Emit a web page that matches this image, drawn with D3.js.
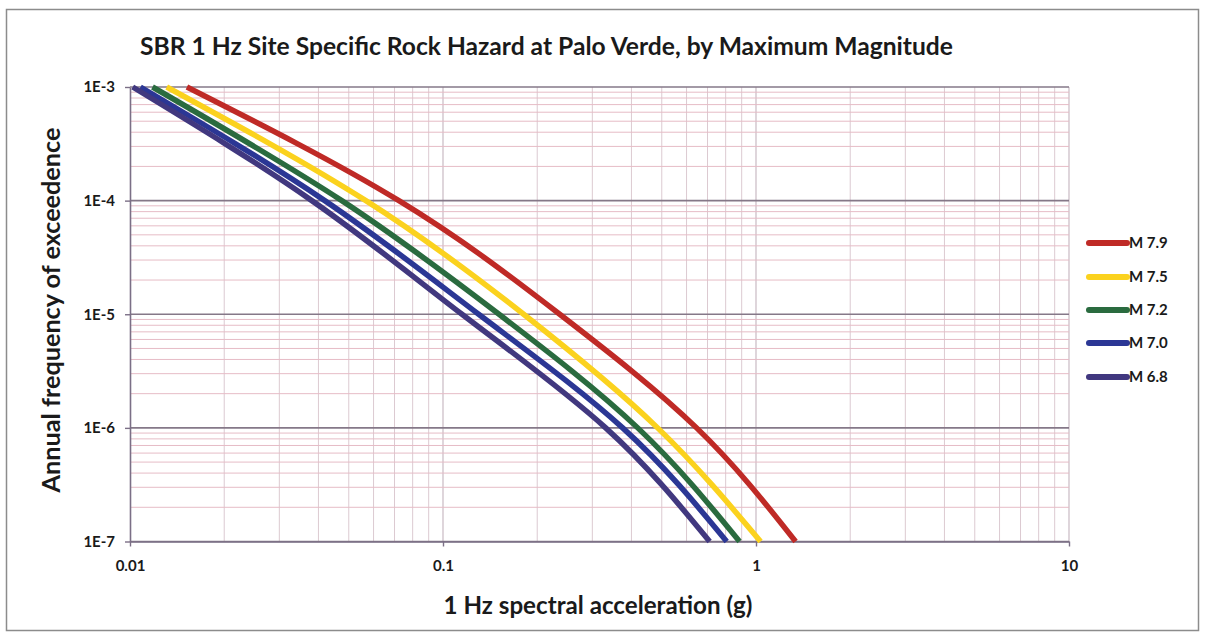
<!DOCTYPE html>
<html lang="en">
<meta charset="utf-8">
<head>
<script src="https://d3js.org/d3.v7.min.js"></script>
<style>
  body { margin: 0; background: #fff; }
  text { font-family: Lato, "Open Sans", sans-serif; font-weight: bold; fill: #1a1a1a; }
</style>
</head>
<body>
<div id="chart"></div>
<script>

var freqLevels = [1e-3, 1e-4, 1e-5, 1e-6, 1e-7];

// spectral acceleration (g) at those levels, one array per max magnitude
var accM79 = [0.0152, 0.0723, 0.236, 0.646, 1.338];
var accM75 = [0.0131, 0.0567, 0.181, 0.485, 1.034];
var accM72 = [0.0118, 0.0475, 0.151, 0.419, 0.886];
var accM70 = [0.0108, 0.0419, 0.130, 0.375, 0.806];
var accM68 = [0.0102, 0.0381, 0.115, 0.331, 0.711];

var seriesNames = ["M 7.9", "M 7.5", "M 7.2", "M 7.0", "M 6.8"];
var seriesColors = ["#bf2a26", "#fbd21e", "#2a6b3f", "#2b3795", "#41387f"];
var seriesAcc = [accM79, accM75, accM72, accM70, accM68];

var xTicks = [0.01, 0.1, 1, 10];
var xTickLabels = ["0.01", "0.1", "1", "10"];
var yTicks = [1e-3, 1e-4, 1e-5, 1e-6, 1e-7];
var yTickLabels = ["1E-3", "1E-4", "1E-5", "1E-6", "1E-7"];

var W = 1205, H = 637;
var plot = {left: 130, right: 1069, top: 87, bottom: 541.5};

var svg = d3.select("#chart").append("svg")
  .attr("width", W).attr("height", H);

// outer chart frame
svg.append("rect")
  .attr("x", 6.5).attr("y", 9.5).attr("width", 1192).attr("height", 621)
  .attr("fill", "#fff").attr("stroke", "#8c8c8c").attr("stroke-width", 1.5);

var x = d3.scaleLog().domain([0.01, 10]).range([plot.left, plot.right]);
var y = d3.scaleLog().domain([1e-7, 1e-3]).range([plot.bottom, plot.top]);

// minor values 2..9 per decade
function minors(lo, hi) {
  var out = [];
  for (var d = lo; d < hi * 0.999; d *= 10) {
    for (var k = 2; k <= 9; k++) out.push(d * k);
  }
  return out;
}

var grid = svg.append("g");
// vertical grid
grid.selectAll(".vmin").data(minors(0.01, 10)).enter().append("line")
  .attr("x1", d => x(d)).attr("x2", d => x(d))
  .attr("y1", plot.top).attr("y2", plot.bottom)
  .attr("stroke", "#dccad1").attr("stroke-width", 1);
grid.selectAll(".vmaj").data(xTicks.slice(1)).enter().append("line")
  .attr("x1", d => x(d)).attr("x2", d => x(d))
  .attr("y1", plot.top).attr("y2", plot.bottom)
  .attr("stroke", "#c9bac3").attr("stroke-width", 1.2);

// horizontal grid
grid.selectAll(".hmin").data(minors(1e-7, 1e-3)).enter().append("line")
  .attr("x1", plot.left).attr("x2", plot.right)
  .attr("y1", d => y(d)).attr("y2", d => y(d))
  .attr("stroke", "#e6bcc6").attr("stroke-width", 1);
grid.selectAll(".hmaj").data(yTicks).enter().append("line")
  .attr("x1", plot.left).attr("x2", plot.right)
  .attr("y1", d => y(d)).attr("y2", d => y(d))
  .attr("stroke", "#857888").attr("stroke-width", 1.6);

// axes
var xAxis = d3.axisBottom(x).tickValues(xTicks).tickFormat((d, i) => xTickLabels[i])
  .tickSizeInner(5).tickSizeOuter(0).tickPadding(14);
var gx = svg.append("g").attr("transform", "translate(0," + plot.bottom + ")").call(xAxis);
var yAxis = d3.axisLeft(y).tickValues(yTicks).tickFormat((d, i) => yTickLabels[i])
  .tickSizeInner(5).tickSizeOuter(0).tickPadding(10);
var gy = svg.append("g").attr("transform", "translate(" + plot.left + ",0)").call(yAxis);

[gx, gy].forEach(function(g) {
  g.select(".domain").attr("stroke", "#7b6f86").attr("stroke-width", 1.6);
  g.selectAll(".tick line").attr("stroke", "#7b6f86").attr("stroke-width", 1.4);
  g.selectAll(".tick text").style("font-family", "Lato, sans-serif")
    .style("font-weight", "bold").style("font-size", "15px").attr("fill", "#1a1a1a");
});

// curves
var line = d3.line()
  .x(d => x(d[0])).y(d => y(d[1]))
  .curve(d3.curveNatural);

seriesAcc.forEach(function(acc, i) {
  var pts = acc.map((a, j) => [a, freqLevels[j]]);
  svg.append("path")
    .attr("d", line(pts))
    .attr("fill", "none")
    .attr("stroke", seriesColors[i])
    .attr("stroke-width", 5.5)
    .attr("stroke-linecap", "butt");
});

// legend
var legendY = [243, 277, 310, 343, 377];
var lg = svg.append("g");
seriesNames.forEach(function(name, i) {
  lg.append("line")
    .attr("x1", 1089).attr("x2", 1127)
    .attr("y1", legendY[i]).attr("y2", legendY[i])
    .attr("stroke", seriesColors[i]).attr("stroke-width", 6)
    .attr("stroke-linecap", "round");
  lg.append("text")
    .attr("x", 1129).attr("y", legendY[i]).attr("dy", "0.35em")
    .style("font-size", "15px")
    .text(name);
});

// fit a text to a target width by scaling its font size
function fitText(sel, size, target) {
  sel.style("font-size", size + "px");
  var len = sel.node().getComputedTextLength();
  sel.style("font-size", (size * target / len) + "px");
}

var title = svg.append("text")
  .attr("x", 140).attr("y", 46).attr("dy", "0.35em")
  .text("SBR 1 Hz Site Specific Rock Hazard at Palo Verde, by Maximum Magnitude");
fitText(title, 22, 813);

var xTitle = svg.append("text")
  .attr("x", 598).attr("y", 606).attr("dy", "0.35em")
  .attr("text-anchor", "middle")
  .text("1 Hz spectral acceleration (g)");
fitText(xTitle, 21, 309);

var yTitle = svg.append("text")
  .attr("transform", "translate(51,310) rotate(-90)")
  .attr("text-anchor", "middle").attr("dy", "0.35em")
  .text("Annual frequency of exceedence");
fitText(yTitle, 21, 365);

</script>
</body>
</html>
